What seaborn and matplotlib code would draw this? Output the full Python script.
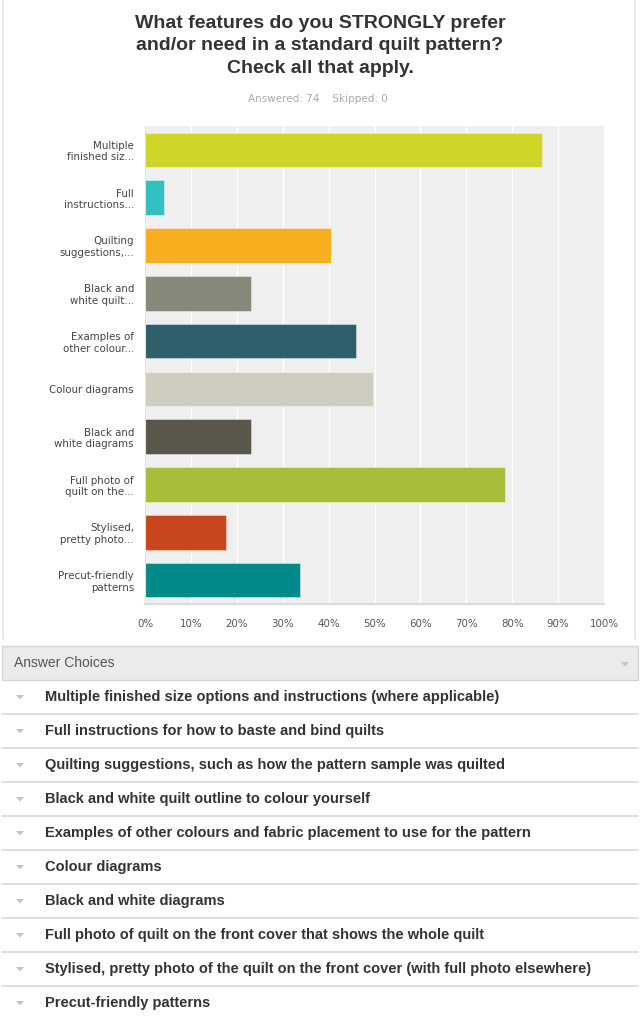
import matplotlib
matplotlib.use("Agg")
import matplotlib.pyplot as plt
import seaborn as sns
import pandas as pd
from matplotlib.lines import Line2D
from matplotlib.patches import Rectangle, Polygon

# ---------------- data ----------------
chart_labels = [
    "Multiple\nfinished siz...",
    "Full\ninstructions...",
    "Quilting\nsuggestions,...",
    "Black and\nwhite quilt...",
    "Examples of\nother colour...",
    "Colour diagrams",
    "Black and\nwhite diagrams",
    "Full photo of\nquilt on the...",
    "Stylised,\npretty photo...",
    "Precut-friendly\npatterns",
]
percent_values = [86.5, 4.05, 40.5, 23.0, 45.9, 49.6, 23.0, 78.4, 17.6, 33.8]
bar_colors = ["#cfd527", "#32bfc0", "#f7ae1f", "#87877a", "#2f5f6b",
              "#cfcdbf", "#5a574a", "#a9bd3a", "#c9461c", "#008b8b"]
x_ticks = [0, 10, 20, 30, 40, 50, 60, 70, 80, 90, 100]
x_tick_labels = ["0%", "10%", "20%", "30%", "40%", "50%", "60%", "70%", "80%", "90%", "100%"]
answer_choices = [
    "Multiple finished size options and instructions (where applicable)",
    "Full instructions for how to baste and bind quilts",
    "Quilting suggestions, such as how the pattern sample was quilted",
    "Black and white quilt outline to colour yourself",
    "Examples of other colours and fabric placement to use for the pattern",
    "Colour diagrams",
    "Black and white diagrams",
    "Full photo of quilt on the front cover that shows the whole quilt",
    "Stylised, pretty photo of the quilt on the front cover (with full photo elsewhere)",
    "Precut-friendly patterns",
]
title_text = "What features do you STRONGLY prefer\nand/or need in a standard quilt pattern?\nCheck all that apply."
answered_text = "Answered: 74    Skipped: 0"
header_text = "Answer Choices"

# ---------------- figure ----------------
sns.set_theme(style="white")
plt.rcParams["font.family"] = ["DejaVu Sans"]

W, H = 640, 1018
fig = plt.figure(figsize=(W / 100, H / 100), dpi=100)

def fx(px):
    return px / W

def fy(py):
    return 1 - py / H

# chart axes
ax_left, ax_right, ax_top, ax_bottom = 145, 604, 126, 604
ax = fig.add_axes([fx(ax_left), fy(ax_bottom), fx(ax_right - ax_left), (ax_bottom - ax_top) / H])

df = pd.DataFrame({"label": chart_labels, "value": percent_values})
sns.barplot(data=df, x="value", y="label", hue="label", palette=bar_colors,
            legend=False, width=0.72, orient="h", ax=ax, saturation=1,
            edgecolor="#ffffff", linewidth=0.6)
for p in ax.patches:
    p.set_edgecolor((1, 1, 1, 0.45))

ax.set_facecolor("#efefef")
ax.set_xlim(0, 100)
ax.set_ylim(9.5, -0.5)
ax.set_xticks(x_ticks)
ax.set_xticklabels(x_tick_labels, fontsize=7.4, color="#555555")
ax.tick_params(axis="y", labelsize=7.4, labelcolor="#444444", pad=8, length=0)
ax.tick_params(axis="x", pad=11, length=0)
for lbl in ax.get_yticklabels():
    lbl.set_horizontalalignment("right")
    lbl.set_multialignment("right")
ax.set_xlabel("")
ax.set_ylabel("")
ax.grid(axis="x", color="white", linewidth=1.0)
ax.set_axisbelow(True)
for s in ["top", "right"]:
    ax.spines[s].set_visible(False)
ax.spines["bottom"].set_color("#dcdcdc")
ax.spines["bottom"].set_linewidth(1.6)
ax.spines["left"].set_color("#e2e2e2")
ax.spines["left"].set_linewidth(0.8)

# panel border
fig.add_artist(Line2D([fx(3), fx(3)], [fy(0), fy(639)], color="#e3e3e3", linewidth=1.2))
fig.add_artist(Line2D([fx(635), fx(635)], [fy(0), fy(639)], color="#e3e3e3", linewidth=1.2))

# title
fig.text(fx(320), fy(46), title_text, ha="center", va="center", fontsize=14,
         fontweight="bold", color="#333333", family=["Liberation Sans"],
         linespacing=1.42)
fig.text(fx(318), fy(99), answered_text, ha="center", va="center",
         fontsize=7.5, color="#aaaaaa")

# answer choices header
fig.add_artist(Rectangle((fx(2), fy(680)), fx(636), 34 / H, facecolor="#ebebeb",
                         edgecolor="#d6d6d6", linewidth=1.0, transform=fig.transFigure))
fig.text(fx(14), fy(663), header_text, ha="left", va="center", fontsize=10,
         color="#555555", family=["Liberation Sans"])

def tri(cx, cy, color):
    pts = [(fx(cx - 4), fy(cy - 2)), (fx(cx + 4), fy(cy - 2)), (fx(cx), fy(cy + 2.5))]
    fig.add_artist(Polygon(pts, closed=True, facecolor=color, edgecolor="none",
                           transform=fig.transFigure))

tri(625, 664, "#c4c4c4")

row_h = 34
for i, choice in enumerate(answer_choices):
    top = 680 + i * row_h
    cy = top + 17
    fig.text(fx(45), fy(cy), choice, ha="left", va="center", fontsize=10.5,
             fontweight="bold", color="#333333", family=["Liberation Sans"])
    tri(20, cy, "#c4c4c4")
    if i < len(answer_choices) - 1:
        fig.add_artist(Line2D([fx(2), fx(638)], [fy(top + row_h), fy(top + row_h)],
                              color="#d9d9d9", linewidth=1.2))

fig.savefig("out.png", dpi=100)
